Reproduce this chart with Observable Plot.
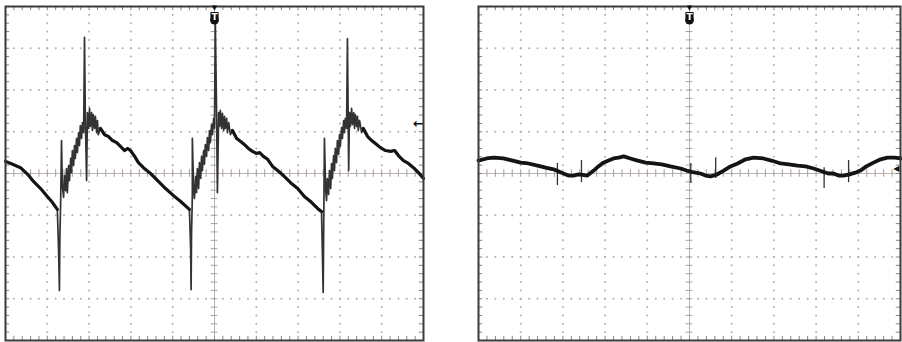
<!DOCTYPE html>
<html><head><meta charset="utf-8">
<script src="https://cdn.jsdelivr.net/npm/d3@7"></script>
<script src="https://cdn.jsdelivr.net/npm/@observablehq/plot@0.6"></script>
<style>
body{margin:0;background:#fff;}
#wrap{display:flex;width:902px;height:342px;overflow:hidden;}
#wrap svg{display:block;flex:none;}
</style></head><body><div id="wrap"></div>
<script>
// ---- Data (time in divisions 0..10, voltage in divisions -4..4) ----
const leftRamp1 = [[0,0.29],[0.17,0.22],[0.36,0.14],[0.53,-0.02],[0.67,-0.19],[0.84,-0.36],[1.00,-0.55],[1.12,-0.69],[1.24,-0.86]];
const leftBurst1 = [[1.24,-0.86],[1.27,-1.84],[1.29,-2.80],[1.30,-1.60],[1.32,-0.65],[1.34,0.79],[1.36,-0.29],[1.39,-0.57],[1.41,-0.05],[1.44,-0.41],[1.46,0.12],[1.48,-0.46],[1.51,0.19],[1.53,-0.17],[1.56,0.36],[1.58,0.02],[1.60,0.55],[1.63,0.19],[1.65,0.67],[1.67,0.36],[1.70,0.84],[1.72,0.50],[1.75,0.98],[1.77,0.67],[1.79,1.15],[1.82,0.84],[1.84,1.22],[1.87,0.98],[1.89,3.26],[1.91,1.32],[1.94,-0.17],[1.96,1.46],[1.99,1.08],[2.01,1.56],[2.03,1.13],[2.06,1.46],[2.08,1.03],[2.10,1.41],[2.13,1.08],[2.15,1.37],[2.18,0.98],[2.20,1.27],[2.22,0.93],[2.27,1.08]];
const leftDecay1 = [[2.27,1.08],[2.37,0.93],[2.46,0.89],[2.56,0.79],[2.66,0.74],[2.75,0.65],[2.85,0.55],[2.92,0.60],[2.99,0.55],[3.09,0.41],[3.18,0.26],[3.30,0.14],[3.47,0.00],[3.64,-0.17],[3.83,-0.36],[4.02,-0.53],[4.19,-0.67],[4.38,-0.84],[4.40,-0.86]];
const leftBurst2 = [[4.40,-0.86],[4.43,-1.84],[4.44,-2.78],[4.45,-1.48],[4.47,-0.53],[4.47,0.84],[4.50,-0.36],[4.52,-0.60],[4.55,-0.07],[4.57,-0.46],[4.59,0.12],[4.62,-0.36],[4.64,0.26],[4.67,-0.12],[4.69,0.41],[4.71,0.07],[4.74,0.55],[4.76,0.22],[4.78,0.69],[4.81,0.41],[4.83,0.86],[4.86,0.55],[4.88,1.03],[4.90,0.74],[4.93,1.17],[4.95,0.93],[4.98,1.32],[5.00,1.08],[5.02,3.62],[5.05,1.39],[5.07,-0.46],[5.10,1.46],[5.12,1.13],[5.14,1.51],[5.17,1.08],[5.19,1.44],[5.22,1.03],[5.24,1.37],[5.26,1.08],[5.29,1.32],[5.31,0.98],[5.34,1.22],[5.38,0.93],[5.43,1.03]];
const leftDecay2 = [[5.43,1.03],[5.53,0.84],[5.62,0.77],[5.72,0.69],[5.81,0.60],[5.91,0.53],[6.00,0.48],[6.08,0.50],[6.17,0.41],[6.27,0.34],[6.39,0.17],[6.51,0.07],[6.65,-0.05],[6.82,-0.22],[6.99,-0.36],[7.15,-0.55],[7.32,-0.69],[7.49,-0.86],[7.56,-0.91]];
const leftBurst3 = [[7.56,-0.91],[7.58,-1.84],[7.60,-2.85],[7.61,-1.60],[7.62,-0.41],[7.63,0.84],[7.66,-0.41],[7.68,-0.65],[7.70,-0.12],[7.73,-0.50],[7.75,0.07],[7.78,-0.36],[7.80,0.24],[7.82,-0.12],[7.85,0.43],[7.87,0.07],[7.89,0.60],[7.92,0.26],[7.94,0.79],[7.97,0.46],[7.99,0.93],[8.01,0.65],[8.04,1.10],[8.06,0.84],[8.09,1.27],[8.11,0.98],[8.13,1.32],[8.16,1.08],[8.18,3.23],[8.21,0.07],[8.23,1.46],[8.25,1.13],[8.28,1.56],[8.30,1.17],[8.33,1.46],[8.35,1.08],[8.37,1.41],[8.40,1.13],[8.42,1.37],[8.44,1.03],[8.47,1.27],[8.52,0.98],[8.56,1.08]];
const leftDecay3 = [[8.56,1.08],[8.66,0.89],[8.76,0.79],[8.85,0.72],[8.97,0.62],[9.09,0.55],[9.21,0.53],[9.31,0.55],[9.40,0.43],[9.52,0.31],[9.64,0.24],[9.76,0.14],[9.88,0.02],[10.00,-0.12]];

const rightTrace = [[0,0.31],[0.19,0.36],[0.36,0.38],[0.59,0.36],[0.81,0.31],[1.00,0.26],[1.18,0.24],[1.40,0.19],[1.59,0.14],[1.78,0.10],[1.90,0.05],[2.01,0.00],[2.13,-0.05],[2.25,-0.05],[2.37,-0.02],[2.46,-0.03],[2.58,-0.05],[2.73,0.07],[2.84,0.17],[2.96,0.26],[3.08,0.31],[3.20,0.36],[3.32,0.38],[3.44,0.41],[3.60,0.36],[3.77,0.31],[3.96,0.26],[4.15,0.24],[4.34,0.22],[4.55,0.17],[4.79,0.12],[4.93,0.07],[5.05,0.04],[5.14,0.02],[5.26,0.00],[5.38,-0.05],[5.50,-0.07],[5.64,-0.03],[5.81,0.07],[5.97,0.17],[6.14,0.24],[6.33,0.34],[6.52,0.38],[6.75,0.36],[6.94,0.31],[7.16,0.24],[7.35,0.22],[7.56,0.19],[7.75,0.17],[7.94,0.12],[8.08,0.07],[8.20,0.03],[8.29,0.00],[8.41,0.00],[8.53,-0.05],[8.65,-0.05],[8.79,-0.02],[8.93,0.02],[9.05,0.07],[9.19,0.17],[9.36,0.26],[9.53,0.34],[9.69,0.38],[9.86,0.38],[10.0,0.36]];
const rightSpikes = [[1.87,-0.29,0.24],[2.44,-0.22,0.31],[5.03,-0.24,0.24],[5.62,-0.12,0.38],[8.19,-0.36,0.14],[8.77,-0.22,0.31]];

const triggerTime = [5];
const leftLevelMarker = [[9.88, 1.2]];
const rightLevelMarker = [[9.9, 0.12]];

// graticule
const majorX = [1,2,3,4,6,7,8,9];
const majorY = [-3,-2,-1,1,2,3];
const minorX = d3.range(1, 50).map(i => i / 5);
const minorY = d3.range(-19, 20).map(i => i / 5);

const gridPts = majorX.flatMap(x => minorY.map(y => [x, y]))
  .concat(majorY.flatMap(y => minorX.map(x => [x, y])));

const X = d => d[0], Y = d => d[1];
const dotColor = "#c0a8a4", axisColor = "#a99e9e";

function graticule() {
  return [
    Plot.dot(gridPts, {x: X, y: Y, r: 1, fill: dotColor, stroke: null}),
    Plot.ruleY([0], {stroke: axisColor, strokeWidth: 0.8}),
    Plot.ruleX([5], {stroke: axisColor, strokeWidth: 0.8}),
    Plot.ruleX(minorX, {x: d => d, y1: -0.09, y2: 0.09, stroke: axisColor, strokeWidth: 1}),
    Plot.ruleY(minorY, {y: d => d, x1: 4.92, x2: 5.08, stroke: axisColor, strokeWidth: 1}),
    Plot.ruleX(minorX, {x: d => d, y1: 4, y2: 3.9, stroke: "#8a8080", strokeWidth: 1}),
    Plot.ruleX(minorX, {x: d => d, y1: -4, y2: -3.9, stroke: "#8a8080", strokeWidth: 1}),
    Plot.ruleY(minorY, {y: d => d, x1: 0, x2: 0.1, stroke: "#8a8080", strokeWidth: 1}),
    Plot.ruleY(minorY, {y: d => d, x1: 9.9, x2: 10, stroke: "#8a8080", strokeWidth: 1})
  ];
}
function trigger() {
  return [
    Plot.dot(triggerTime, {x: d => d, y: 3.77, r: 4.6, symbol: "square", fill: "#111", stroke: null}),
    Plot.dot(triggerTime, {x: d => d, y: 3.67, r: 4.3, fill: "#111", stroke: null}),
    Plot.text(triggerTime, {x: d => d, y: 3.74, text: () => "T", fill: "#fff", fontSize: 9, fontWeight: "bold", fontFamily: "DejaVu Sans"}),
    Plot.text(triggerTime, {x: d => d, y: 3.97, text: () => "▼", fill: "#111", fontSize: 7, fontFamily: "DejaVu Sans"})
  ];
}
function frame(w, ml, mr, marks) {
  return Plot.plot({
    width: w, height: 342, marginTop: 6, marginBottom: 2, marginLeft: ml, marginRight: mr,
    x: {domain: [0, 10], axis: null},
    y: {domain: [-4, 4], axis: null},
    style: {background: "#fff", overflow: "visible"},
    marks: [...graticule(), ...marks, Plot.frame({stroke: "#3a3a3a", strokeWidth: 2}), ...trigger()]
  });
}

const burstStyle = {x: X, y: Y, stroke: "#333", strokeWidth: 1.7, strokeLinejoin: "round"};
const traceStyle = {x: X, y: Y, stroke: "#141414", strokeWidth: 3.2, strokeLinejoin: "round", strokeLinecap: "round"};

const left = frame(470, 5, 47, [
  Plot.line(leftBurst1, burstStyle),
  Plot.line(leftBurst2, burstStyle),
  Plot.line(leftBurst3, burstStyle),
  Plot.line(leftRamp1, traceStyle),
  Plot.line(leftDecay1, traceStyle),
  Plot.line(leftDecay2, traceStyle),
  Plot.line(leftDecay3, traceStyle),
  Plot.text(leftLevelMarker, {x: X, y: Y, text: () => "←", fill: "#111", fontSize: 13, fontWeight: "bold", fontFamily: "DejaVu Sans"})
]);
const right = frame(432, 8, 2, [
  Plot.ruleX(rightSpikes, {x: d => d[0], y1: d => d[1], y2: d => d[2], stroke: "#333", strokeWidth: 1.3}),
  Plot.line(rightTrace, {...traceStyle, strokeWidth: 3.8}),
  Plot.text(rightLevelMarker, {x: X, y: Y, text: () => "◀", fill: "#111", fontSize: 8, fontFamily: "DejaVu Sans"})
]);
document.getElementById("wrap").append(left, right);
</script>
</body></html>
